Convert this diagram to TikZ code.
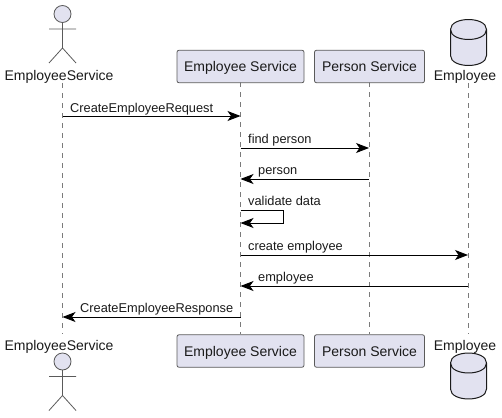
\documentclass[tikz,border=0pt]{standalone}
\usepackage{fontspec}
\setmainfont{Liberation Sans}
\usetikzlibrary{arrows.meta,shapes.geometric,calc}
\definecolor{partfill}{HTML}{E2E2F0}
\definecolor{partline}{HTML}{5A5A5A}
\definecolor{lifeline}{HTML}{7A7A7A}
\definecolor{inkc}{HTML}{1A1A1A}
\tikzset{
  pbox/.style={draw=partline,fill=partfill,line width=0.8pt,rounded corners=2pt,minimum height=32.5pt,inner sep=0pt,font=\fontsize{14}{16}\selectfont,text=inkc,text height=12pt,text depth=1pt},
  plabel/.style={inner sep=0pt,font=\fontsize{14}{16}\selectfont,text=inkc,text height=12pt,text depth=1pt},
  mlabel/.style={inner sep=0pt,anchor=west,font=\fontsize{12.8}{14}\selectfont,text=inkc,text height=10.5pt,text depth=1.5pt},
  life/.style={draw=lifeline,line width=0.7pt,dash pattern=on 5pt off 5pt},
  msg/.style={draw=black,line width=0.9pt,-{Stealth[length=13pt,width=10pt,inset=3.5pt]}},
  actorline/.style={draw=partline,line width=0.8pt,fill=none},
  actorhead/.style={draw=partline,line width=0.8pt,fill=partfill},
  dbshape/.style={draw=inkc,line width=1pt,fill=partfill}
}
\newcommand{\drawactor}[1]{%
  \begin{scope}[shift={(#1)}]
    \draw[actorhead] (0,0) circle (8.5);
    \draw[actorline] (0,8.5) -- (0,34) (-13.5,15) -- (13.5,15) (-13.5,49) -- (0,34) -- (13.5,49);
  \end{scope}}
\newcommand{\drawdb}[1]{%
  \begin{scope}[shift={(#1)}]
    \draw[dbshape] (-18,10) .. controls (-18,-3.3) and (18,-3.3) .. (18,10) -- (18,36)
      .. controls (18,49.3) and (-18,49.3) .. (-18,36) -- cycle;
    \draw[dbshape,fill=none] (-18,10) .. controls (-18,23.3) and (18,23.3) .. (18,10);
  \end{scope}}
\begin{document}
\begin{tikzpicture}[x=1pt,y=-1pt]
\useasboundingbox (0,0) rectangle (502,417);
% lifeline ends
\coordinate (a1) at (62.5,83);
\coordinate (a2) at (62.5,334);
\coordinate (b1) at (240.5,82);
\coordinate (b2) at (240.5,334);
\coordinate (c1) at (369,82);
\coordinate (c2) at (369,334);
\coordinate (d1) at (468,83);
\coordinate (d2) at (468,334);
\draw[life] (a1) -- (a2);
\draw[life] (b1) -- (b2);
\draw[life] (c1) -- (c2);
\draw[life] (d1) -- (d2);
% actors and databases
\drawactor{62.5,14}
\drawactor{62.5,361.5}
\drawdb{468.5,19.5}
\drawdb{468.5,353}
\node[plabel] (actorTop) at (59,75) {EmployeeService};
\node[plabel] (actorBottom) at (59,345) {EmployeeService};
\node[plabel] (dbTop) at (465,75) {Employee};
\node[plabel] (dbBottom) at (465,345) {Employee};
% boxes
\node[pbox,minimum width=127pt] (esTop) at (240.5,66.5) {Employee Service};
\node[pbox,minimum width=110pt] (psTop) at (369.5,66.5) {Person Service};
\node[pbox,minimum width=127pt] (esBot) at (240.5,351) {Employee Service};
\node[pbox,minimum width=110pt] (psBot) at (369.5,351) {Person Service};
% messages
\coordinate (m1a) at (62.5,116);  \coordinate (m1b) at (240.5,116);
\coordinate (m2a) at (240.5,148); \coordinate (m2b) at (369,148);
\coordinate (m3a) at (369,179);   \coordinate (m3b) at (240.5,179);
\coordinate (m4a) at (240.5,210); \coordinate (m4b) at (283,210);
\coordinate (m4c) at (283,223);   \coordinate (m4d) at (240.5,223);
\coordinate (m5a) at (240.5,255); \coordinate (m5b) at (468,255);
\coordinate (m6a) at (468,286);   \coordinate (m6b) at (240.5,286);
\coordinate (m7a) at (240.5,317); \coordinate (m7b) at (62.5,317);
\draw[msg] (m1a) -- (m1b);
\draw[msg] (m2a) -- (m2b);
\draw[msg] (m3a) -- (m3b);
\draw[msg] (m4a) -- (m4b) -- (m4c) -- (m4d);
\draw[msg] (m5a) -- (m5b);
\draw[msg] (m6a) -- (m6b);
\draw[msg] (m7a) -- (m7b);
\node[mlabel] (t1) at (70,108) {CreateEmployeeRequest};
\node[mlabel] (t2) at (248,139) {find person};
\node[mlabel] (t3) at (258,170) {person};
\node[mlabel] (t4) at (248,201) {validate data};
\node[mlabel] (t5) at (248,246) {create employee};
\node[mlabel] (t6) at (258,277) {employee};
\node[mlabel] (t7) at (80,308) {CreateEmployeeResponse};
\end{tikzpicture}
\end{document}
